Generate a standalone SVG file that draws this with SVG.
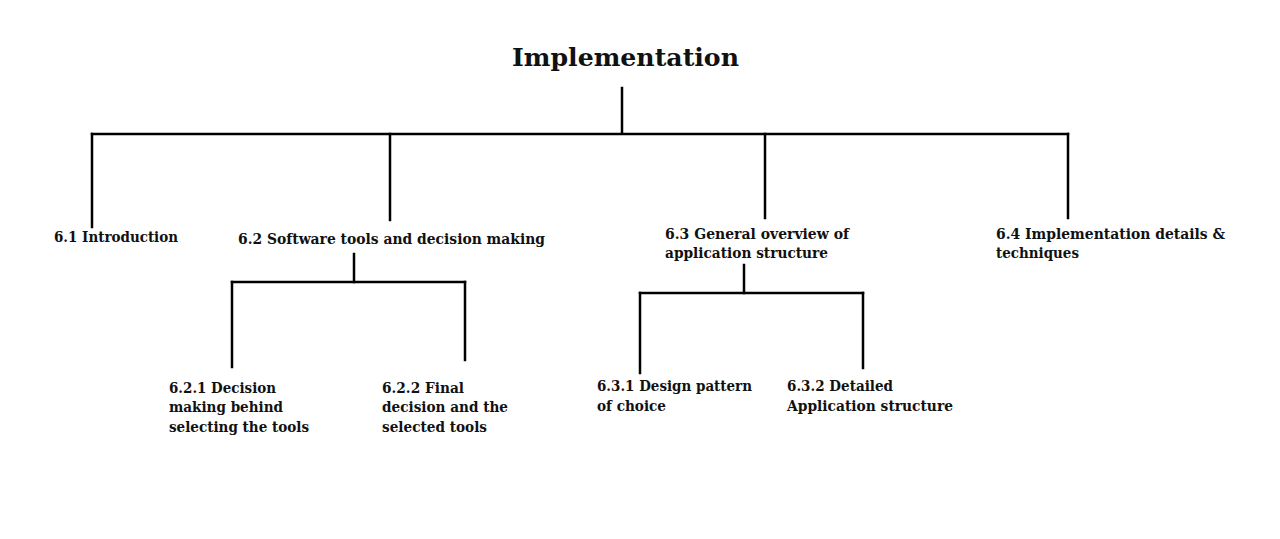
<svg xmlns="http://www.w3.org/2000/svg" width="1280" height="539" viewBox="0 0 1280 539">
<style>
  .bg { fill: #ffffff; }
  .ln { stroke: #000000; stroke-width: 2.5; fill: none; stroke-linecap: square; }
  .t { font-family: "DejaVu Serif", "Liberation Serif", serif; font-weight: bold; fill: #111111; }
  .title { font-size: 25px; }
  .l1 { font-size: 14.5px; }
  .l2 { font-size: 14px; }
</style>
<rect class="bg" x="0" y="0" width="1280" height="539"/>
<g id="connectors">
  <line class="ln" x1="622" y1="88" x2="622" y2="133"/>
  <line class="ln" x1="92" y1="134" x2="1068" y2="134"/>
  <line class="ln" x1="92" y1="134" x2="92" y2="227"/>
  <line class="ln" x1="390" y1="134" x2="390" y2="220"/>
  <line class="ln" x1="765" y1="134" x2="765" y2="218"/>
  <line class="ln" x1="1068" y1="134" x2="1068" y2="218"/>
  <line class="ln" x1="354" y1="254" x2="354" y2="282"/>
  <line class="ln" x1="232" y1="282" x2="465" y2="282"/>
  <line class="ln" x1="232" y1="282" x2="232" y2="367"/>
  <line class="ln" x1="465" y1="282" x2="465" y2="360"/>
  <line class="ln" x1="744" y1="265" x2="744" y2="293"/>
  <line class="ln" x1="640" y1="293" x2="863" y2="293"/>
  <line class="ln" x1="640" y1="293" x2="640" y2="373"/>
  <line class="ln" x1="863" y1="293" x2="863" y2="368"/>
</g>
<g id="n-root">
  <text class="t title" x="512" y="66" textLength="227" lengthAdjust="spacingAndGlyphs">Implementation</text>
</g>
<g id="n-6-1">
  <text class="t l1" x="54" y="242" textLength="124" lengthAdjust="spacingAndGlyphs">6.1 Introduction</text>
</g>
<g id="n-6-2">
  <text class="t l1" x="238" y="244" textLength="307" lengthAdjust="spacingAndGlyphs">6.2 Software tools and decision making</text>
</g>
<g id="n-6-3">
  <text class="t l1" x="665" y="239" textLength="184" lengthAdjust="spacingAndGlyphs">6.3 General overview of</text>
  <text class="t l1" x="665" y="258" textLength="163" lengthAdjust="spacingAndGlyphs">application structure</text>
</g>
<g id="n-6-4">
  <text class="t l1" x="996" y="239" textLength="229" lengthAdjust="spacingAndGlyphs">6.4 Implementation details &amp;</text>
  <text class="t l1" x="996" y="258" textLength="83" lengthAdjust="spacingAndGlyphs">techniques</text>
</g>
<g id="n-6-2-1">
  <text class="t l2" x="169" y="393" textLength="107" lengthAdjust="spacingAndGlyphs">6.2.1 Decision</text>
  <text class="t l2" x="169" y="412" textLength="114" lengthAdjust="spacingAndGlyphs">making behind</text>
  <text class="t l2" x="169" y="432" textLength="140" lengthAdjust="spacingAndGlyphs">selecting the tools</text>
</g>
<g id="n-6-2-2">
  <text class="t l2" x="382" y="393" textLength="82" lengthAdjust="spacingAndGlyphs">6.2.2 Final</text>
  <text class="t l2" x="382" y="412" textLength="126" lengthAdjust="spacingAndGlyphs">decision and the</text>
  <text class="t l2" x="382" y="432" textLength="105" lengthAdjust="spacingAndGlyphs">selected tools</text>
</g>
<g id="n-6-3-1">
  <text class="t l2" x="597" y="391" textLength="155" lengthAdjust="spacingAndGlyphs">6.3.1 Design pattern</text>
  <text class="t l2" x="597" y="411" textLength="69" lengthAdjust="spacingAndGlyphs">of choice</text>
</g>
<g id="n-6-3-2">
  <text class="t l2" x="787" y="391" textLength="106" lengthAdjust="spacingAndGlyphs">6.3.2 Detailed</text>
  <text class="t l2" x="787" y="411" textLength="166" lengthAdjust="spacingAndGlyphs">Application structure</text>
</g>
</svg>
